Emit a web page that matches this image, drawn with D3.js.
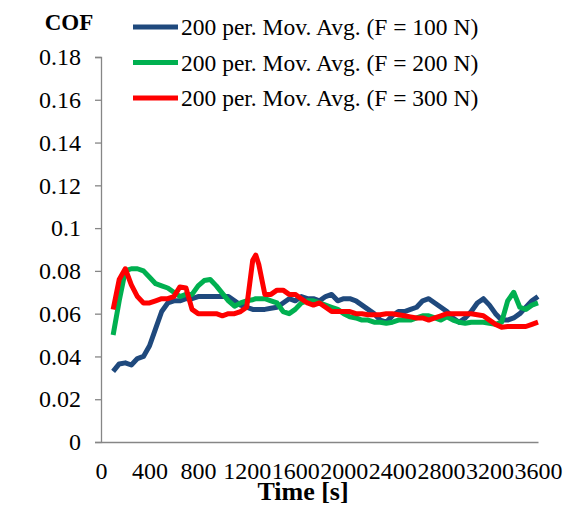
<!DOCTYPE html>
<html>
<head>
<meta charset="utf-8">
<script src="https://cdn.jsdelivr.net/npm/d3@7"></script>
<style>
  body { margin: 0; background: #fff; }
  svg, svg text { font-family: "Liberation Serif", "Times New Roman", serif; }
</style>
</head>
<body>
<div id="chart"></div>
<script>
// time in seconds, shared by all three series
const times = [100, 150, 200, 250, 300, 350, 400, 450, 500, 550, 600, 650, 700, 750, 800, 850, 900, 950,
  1000, 1050, 1100, 1150, 1200, 1250, 1275, 1300, 1350, 1400, 1450, 1500, 1550, 1600, 1650, 1700, 1750,
  1800, 1850, 1900, 1950, 2000, 2050, 2100, 2150, 2200, 2250, 2300, 2350, 2400, 2450, 2500, 2550, 2600,
  2650, 2700, 2750, 2800, 2850, 2900, 2950, 3000, 3050, 3100, 3150, 3200, 3250, 3300, 3350, 3400, 3450,
  3500, 3550, 3600]

const cof100 = [0.033, 0.0365, 0.037, 0.036, 0.039, 0.040, 0.045, 0.053, 0.061, 0.065, 0.066, 0.066, 0.067,
  0.067, 0.068, 0.068, 0.068, 0.068, 0.068, 0.068, 0.066, 0.064, 0.063, 0.062, 0.062, 0.062, 0.062, 0.0625,
  0.063, 0.065, 0.067, 0.066, 0.068, 0.067, 0.067, 0.066, 0.068, 0.069, 0.066, 0.067, 0.067, 0.066, 0.064,
  0.062, 0.060, 0.057, 0.056, 0.059, 0.061, 0.061, 0.062, 0.063, 0.066, 0.067, 0.065, 0.063, 0.061, 0.058,
  0.056, 0.058, 0.061, 0.065, 0.067, 0.064, 0.060, 0.057, 0.057, 0.058, 0.060, 0.063, 0.066, 0.068]

const cof200 = [0.050, 0.066, 0.080, 0.081, 0.081, 0.080, 0.077, 0.074, 0.073, 0.072, 0.070, 0.068, 0.069,
  0.069, 0.073, 0.0755, 0.076, 0.073, 0.0695, 0.066, 0.0635, 0.065, 0.066, 0.0665, 0.067, 0.067, 0.067,
  0.066, 0.065, 0.061, 0.060, 0.062, 0.065, 0.066, 0.066, 0.065, 0.064, 0.063, 0.062, 0.060, 0.0585, 0.058,
  0.057, 0.057, 0.056, 0.056, 0.0555, 0.056, 0.057, 0.057, 0.057, 0.058, 0.059, 0.059, 0.058, 0.057, 0.0585,
  0.057, 0.056, 0.0555, 0.056, 0.056, 0.056, 0.0555, 0.055, 0.056, 0.066, 0.070, 0.063, 0.062, 0.064, 0.065]

const cof300 = [0.062, 0.076, 0.081, 0.0735, 0.068, 0.065, 0.065, 0.066, 0.067, 0.067, 0.068, 0.0725, 0.072,
  0.062, 0.060, 0.060, 0.060, 0.060, 0.059, 0.060, 0.060, 0.061, 0.063, 0.085, 0.0874, 0.083, 0.069, 0.069,
  0.071, 0.071, 0.069, 0.069, 0.067, 0.065, 0.064, 0.065, 0.063, 0.061, 0.061, 0.061, 0.061, 0.060, 0.060,
  0.0595, 0.0595, 0.0595, 0.060, 0.060, 0.0595, 0.059, 0.0585, 0.058, 0.058, 0.057, 0.058, 0.059, 0.060,
  0.060, 0.060, 0.060, 0.060, 0.0595, 0.059, 0.057, 0.055, 0.0537, 0.054, 0.054, 0.054, 0.054, 0.055, 0.056]

const seriesNames = ['200 per. Mov. Avg. (F = 100 N)', '200 per. Mov. Avg. (F = 200 N)', '200 per. Mov. Avg. (F = 300 N)']
const seriesColors = ['#1F497D', '#00B050', '#FF0000']
const xTicks = [0, 400, 800, 1200, 1600, 2000, 2400, 2800, 3200, 3600]
const yTicks = [0, 0.02, 0.04, 0.06, 0.08, 0.1, 0.12, 0.14, 0.16, 0.18]

const width = 566
const height = 508
const margin = { top: 57, right: 28, bottom: 66, left: 101 }
const serif = '"Liberation Serif", "Times New Roman", serif'

const x = d3.scaleLinear().domain([0, 3600]).range([margin.left, width - margin.right])
const y = d3.scaleLinear().domain([0, 0.18]).range([height - margin.bottom, margin.top])

const svg = d3.select('#chart').append('svg')
  .attr('width', width)
  .attr('height', height)

// y axis
const yAxis = svg.append('g')
  .attr('transform', `translate(${margin.left},0)`)
  .call(d3.axisLeft(y).tickValues(yTicks).tickSize(6).tickPadding(14).tickFormat(d3.format('~g')))
yAxis.attr('font-family', serif)
yAxis.selectAll('path, line').attr('stroke', '#868686').attr('stroke-width', 1.3)
yAxis.selectAll('text').style('font-size', '24px').style('font-family', serif).attr('fill', '#000')

// x axis, no tick marks
const xAxis = svg.append('g')
  .attr('transform', `translate(0,${y(0)})`)
  .call(d3.axisBottom(x).tickValues(xTicks).tickSize(0).tickPadding(20).tickSizeOuter(0).tickFormat(d3.format('d')))
xAxis.attr('font-family', serif)
xAxis.select('.domain').attr('stroke', '#868686').attr('stroke-width', 1.3)
xAxis.selectAll('text').style('font-size', '24px').style('font-family', serif).attr('fill', '#000')

// series
const line = d3.line()
  .x((d, i) => x(times[i]))
  .y(d => y(d))

;[cof100, cof200, cof300].forEach((vals, k) => {
  svg.append('path')
    .datum(vals)
    .attr('fill', 'none')
    .attr('stroke', seriesColors[k])
    .attr('stroke-width', 5)
    .attr('stroke-linejoin', 'round')
    .attr('d', line)
})

// axis titles
svg.append('text')
  .attr('x', 69).attr('y', 30)
  .attr('text-anchor', 'middle')
  .style('font-size', '23px').style('font-family', serif).attr('font-weight', 'bold')
  .text('COF')

svg.append('text')
  .attr('x', 303).attr('y', 500)
  .attr('text-anchor', 'middle')
  .style('font-size', '26px').style('font-family', serif).attr('font-weight', 'bold')
  .text('Time [s]')

// legend
const legend = svg.append('g')
seriesNames.forEach((name, k) => {
  const ly = 27 + k * 35.5
  legend.append('line')
    .attr('x1', 133).attr('x2', 178)
    .attr('y1', ly).attr('y2', ly)
    .attr('stroke', seriesColors[k])
    .attr('stroke-width', 5)
  legend.append('text')
    .attr('x', 181).attr('y', ly + 8)
    .style('font-size', '23.5px').style('font-family', serif)
    .text(name)
})
</script>
</body>
</html>
